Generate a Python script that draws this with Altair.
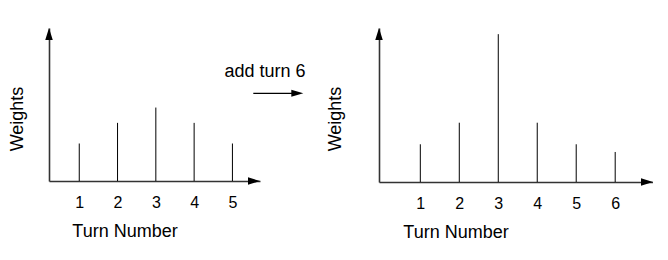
import altair as alt
import pandas as pd

# ---- data ----
turns_before = [1, 2, 3, 4, 5]
weights_before = [2.45, 3.8, 4.8, 3.8, 2.45]
turns_after = [1, 2, 3, 4, 5, 6]
weights_after = [2.45, 3.85, 9.6, 3.85, 2.45, 1.95]
tick_before = [1, 2, 3, 4, 5]
tick_after = [1, 2, 3, 4, 5, 6]
x_domain_before = [0.21, 5.72]
x_domain_after = [-0.06, 6.97]
y_domain = [0, 10]
annotation = "add turn 6"
x_title = "Turn Number"
y_title = "Weights"

FONT = "Liberation Sans"
AXIS_COLOR = "#333333"
UP_ARROW = "M0,0L-0.625,2L0.625,2Z"
RIGHT_ARROW = "M0,0L-2,-0.625L-2,0.625Z"
RIGHT_ARROW_SMALL = "M0,0L-2,-0.58L-2,0.58Z"


def panel(turns, weights, ticks, xdom, width, height, xtitle_x, ytitle_x, extra=None):
    df = pd.DataFrame({"turn": turns, "weight": weights})
    xs = alt.Scale(domain=xdom, nice=False, zero=False)
    ys = alt.Scale(domain=y_domain, nice=False, zero=False)
    stems = alt.Chart(df).mark_rule(color="black", strokeWidth=1).encode(
        x=alt.X("turn:Q", scale=xs, axis=alt.Axis(
            values=ticks, ticks=False, tickSize=0, grid=False,
            labelPadding=26, labelBaseline="alphabetic", labelAlign="center",
            labelFontSize=16, labelFont=FONT, labelColor="black",
            domainColor=AXIS_COLOR, domainWidth=1.6,
            title=x_title, titleFont=FONT, titleFontSize=18, titleFontWeight="normal",
            titleColor="black", titleX=xtitle_x, titleY=55, titleAlign="center",
            titleBaseline="alphabetic", titleAngle=0)),
        y=alt.Y("weight:Q", scale=ys, axis=alt.Axis(
            labels=False, ticks=False, tickSize=0, grid=False,
            domainColor=AXIS_COLOR, domainWidth=1.6,
            title=y_title, titleFont=FONT, titleFontSize=18, titleFontWeight="normal",
            titleColor="black", titleX=ytitle_x, titleY=90.5, titleAlign="center",
            titleBaseline="alphabetic", titleAngle=270)),
        y2=alt.datum(0),
    )
    xa = pd.DataFrame({"turn": [xdom[1]], "weight": [y_domain[0]]})
    ya = pd.DataFrame({"turn": [xdom[0]], "weight": [y_domain[1]]})
    x_arrow = alt.Chart(xa).mark_point(shape=RIGHT_ARROW, filled=True, size=144,
                                       color="black", opacity=1).encode(
        x=alt.X("turn:Q", scale=xs), y=alt.Y("weight:Q", scale=ys))
    y_arrow = alt.Chart(ya).mark_point(shape=UP_ARROW, filled=True, size=144,
                                       color="black", opacity=1).encode(
        x=alt.X("turn:Q", scale=xs), y=alt.Y("weight:Q", scale=ys))
    layers = [stems, x_arrow, y_arrow]
    if extra:
        layers += extra
    return alt.layer(*layers).properties(width=width, height=height)


base = alt.Chart(pd.DataFrame({"t": [annotation]}))
note_text = base.mark_text(font=FONT, fontSize=18, color="black", align="center",
                           baseline="alphabetic").encode(
    text="t:N", x=alt.value(216), y=alt.value(49.3))
note_line = base.mark_rule(color="black", strokeWidth=1.2).encode(
    x=alt.value(204.3), x2=alt.value(250), y=alt.value(65.3))
note_head = base.mark_point(shape=RIGHT_ARROW_SMALL, filled=True, size=144,
                            color="black", opacity=1).encode(
    x=alt.value(254.3), y=alt.value(65.3))

left = panel(turns_before, weights_before, tick_before, x_domain_before,
             211, 153, 75.5, -26.6, extra=[note_text, note_line, note_head])
right = panel(turns_after, weights_after, tick_after, x_domain_after,
              274, 154, 76.5, -39)

chart = alt.hconcat(left, right, spacing=119, bounds="flush").properties(
    padding={"left": 0, "top": 20, "right": 0, "bottom": 0},
    background="white",
).configure_view(stroke=None, strokeWidth=0).configure_axis(grid=False)

chart.save("out.html", embed_options={"renderer": "svg", "actions": False})
